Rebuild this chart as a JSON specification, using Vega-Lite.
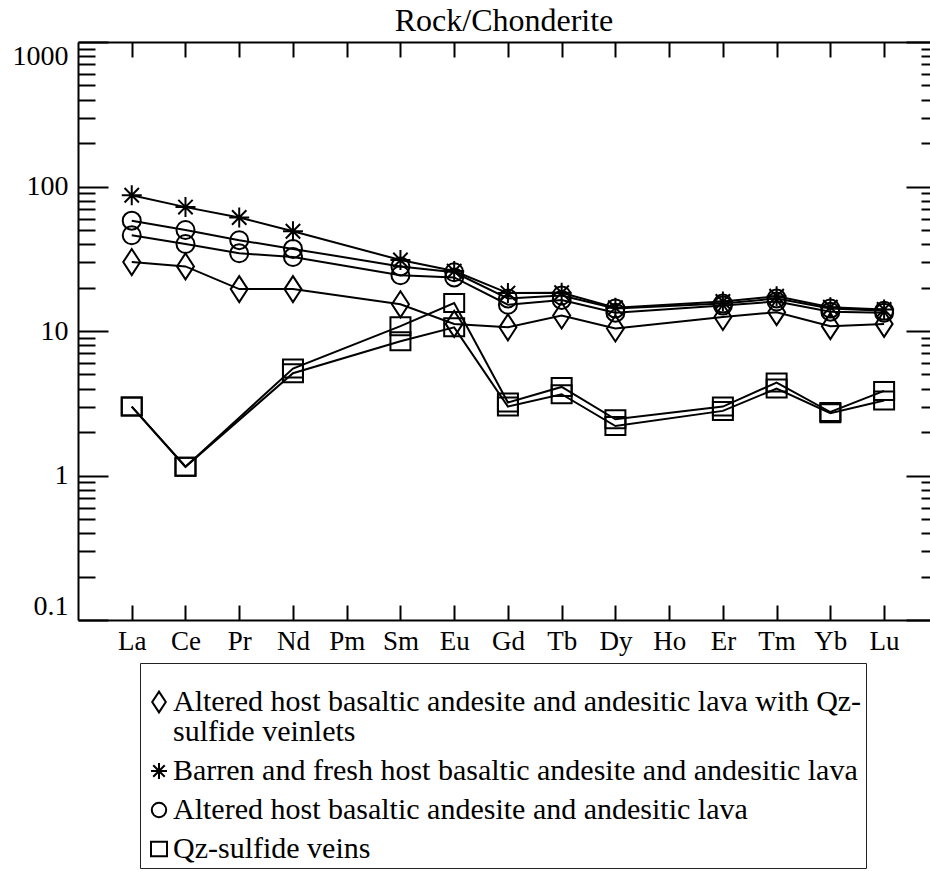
{
  "$schema": "https://vega.github.io/schema/vega-lite/v6.json",
  "autosize": {"type": "none"},
  "padding": {"left": 78, "top": 42, "right": 0, "bottom": 251},
  "width": 852,
  "height": 578,
  "background": "white",
  "config": {
    "font": "Liberation Serif",
    "view": {"stroke": null},
    "axis": {"grid": false, "domainColor": "black", "tickColor": "black", "labelColor": "black", "domainWidth": 2, "tickWidth": 2, "labelFont": "Liberation Serif"}
  },
  "title": {"text": "Rock/Chonderite", "fontSize": 32, "fontWeight": "normal", "font": "Liberation Serif", "color": "black", "anchor": "middle", "frame": "group", "offset": -3},
  "data": {"values": [
    {"type": "Altered host basaltic andesite and andesitic lava with Qz-sulfide veinlets", "series": "D", "el": "La", "Z": 57, "v": 30},
    {"type": "Altered host basaltic andesite and andesitic lava with Qz-sulfide veinlets", "series": "D", "el": "Ce", "Z": 58, "v": 28},
    {"type": "Altered host basaltic andesite and andesitic lava with Qz-sulfide veinlets", "series": "D", "el": "Pr", "Z": 59, "v": 19.5},
    {"type": "Altered host basaltic andesite and andesitic lava with Qz-sulfide veinlets", "series": "D", "el": "Nd", "Z": 60, "v": 19.5},
    {"type": "Altered host basaltic andesite and andesitic lava with Qz-sulfide veinlets", "series": "D", "el": "Sm", "Z": 62, "v": 15.3},
    {"type": "Altered host basaltic andesite and andesitic lava with Qz-sulfide veinlets", "series": "D", "el": "Eu", "Z": 63, "v": 11.2},
    {"type": "Altered host basaltic andesite and andesitic lava with Qz-sulfide veinlets", "series": "D", "el": "Gd", "Z": 64, "v": 10.6},
    {"type": "Altered host basaltic andesite and andesitic lava with Qz-sulfide veinlets", "series": "D", "el": "Tb", "Z": 65, "v": 12.8},
    {"type": "Altered host basaltic andesite and andesitic lava with Qz-sulfide veinlets", "series": "D", "el": "Dy", "Z": 66, "v": 10.4},
    {"type": "Altered host basaltic andesite and andesitic lava with Qz-sulfide veinlets", "series": "D", "el": "Er", "Z": 68, "v": 12.5},
    {"type": "Altered host basaltic andesite and andesitic lava with Qz-sulfide veinlets", "series": "D", "el": "Tm", "Z": 69, "v": 13.5},
    {"type": "Altered host basaltic andesite and andesitic lava with Qz-sulfide veinlets", "series": "D", "el": "Yb", "Z": 70, "v": 10.8},
    {"type": "Altered host basaltic andesite and andesitic lava with Qz-sulfide veinlets", "series": "D", "el": "Lu", "Z": 71, "v": 11.2},

    {"type": "Barren and fresh host basaltic andesite and andesitic lava", "series": "S", "el": "La", "Z": 57, "v": 87},
    {"type": "Barren and fresh host basaltic andesite and andesitic lava", "series": "S", "el": "Ce", "Z": 58, "v": 72},
    {"type": "Barren and fresh host basaltic andesite and andesitic lava", "series": "S", "el": "Pr", "Z": 59, "v": 61},
    {"type": "Barren and fresh host basaltic andesite and andesitic lava", "series": "S", "el": "Nd", "Z": 60, "v": 49},
    {"type": "Barren and fresh host basaltic andesite and andesitic lava", "series": "S", "el": "Sm", "Z": 62, "v": 31},
    {"type": "Barren and fresh host basaltic andesite and andesitic lava", "series": "S", "el": "Eu", "Z": 63, "v": 26},
    {"type": "Barren and fresh host basaltic andesite and andesitic lava", "series": "S", "el": "Gd", "Z": 64, "v": 18.3},
    {"type": "Barren and fresh host basaltic andesite and andesitic lava", "series": "S", "el": "Tb", "Z": 65, "v": 18.4},
    {"type": "Barren and fresh host basaltic andesite and andesitic lava", "series": "S", "el": "Dy", "Z": 66, "v": 14.5},
    {"type": "Barren and fresh host basaltic andesite and andesitic lava", "series": "S", "el": "Er", "Z": 68, "v": 16},
    {"type": "Barren and fresh host basaltic andesite and andesitic lava", "series": "S", "el": "Tm", "Z": 69, "v": 17.4},
    {"type": "Barren and fresh host basaltic andesite and andesitic lava", "series": "S", "el": "Yb", "Z": 70, "v": 14.6},
    {"type": "Barren and fresh host basaltic andesite and andesitic lava", "series": "S", "el": "Lu", "Z": 71, "v": 14.1},

    {"type": "Altered host basaltic andesite and andesitic lava", "series": "C1", "el": "La", "Z": 57, "v": 58},
    {"type": "Altered host basaltic andesite and andesitic lava", "series": "C1", "el": "Ce", "Z": 58, "v": 50},
    {"type": "Altered host basaltic andesite and andesitic lava", "series": "C1", "el": "Pr", "Z": 59, "v": 42.5},
    {"type": "Altered host basaltic andesite and andesitic lava", "series": "C1", "el": "Nd", "Z": 60, "v": 37},
    {"type": "Altered host basaltic andesite and andesitic lava", "series": "C1", "el": "Sm", "Z": 62, "v": 28},
    {"type": "Altered host basaltic andesite and andesitic lava", "series": "C1", "el": "Eu", "Z": 63, "v": 25.5},
    {"type": "Altered host basaltic andesite and andesitic lava", "series": "C1", "el": "Gd", "Z": 64, "v": 16.8},
    {"type": "Altered host basaltic andesite and andesitic lava", "series": "C1", "el": "Tb", "Z": 65, "v": 17.6},
    {"type": "Altered host basaltic andesite and andesitic lava", "series": "C1", "el": "Dy", "Z": 66, "v": 14.3},
    {"type": "Altered host basaltic andesite and andesitic lava", "series": "C1", "el": "Er", "Z": 68, "v": 15.5},
    {"type": "Altered host basaltic andesite and andesitic lava", "series": "C1", "el": "Tm", "Z": 69, "v": 16.8},
    {"type": "Altered host basaltic andesite and andesitic lava", "series": "C1", "el": "Yb", "Z": 70, "v": 14.3},
    {"type": "Altered host basaltic andesite and andesitic lava", "series": "C1", "el": "Lu", "Z": 71, "v": 13.8},

    {"type": "Altered host basaltic andesite and andesitic lava", "series": "C2", "el": "La", "Z": 57, "v": 46},
    {"type": "Altered host basaltic andesite and andesitic lava", "series": "C2", "el": "Ce", "Z": 58, "v": 40},
    {"type": "Altered host basaltic andesite and andesitic lava", "series": "C2", "el": "Pr", "Z": 59, "v": 34.5},
    {"type": "Altered host basaltic andesite and andesitic lava", "series": "C2", "el": "Nd", "Z": 60, "v": 32.5},
    {"type": "Altered host basaltic andesite and andesitic lava", "series": "C2", "el": "Sm", "Z": 62, "v": 24.3},
    {"type": "Altered host basaltic andesite and andesitic lava", "series": "C2", "el": "Eu", "Z": 63, "v": 23.5},
    {"type": "Altered host basaltic andesite and andesitic lava", "series": "C2", "el": "Gd", "Z": 64, "v": 15.2},
    {"type": "Altered host basaltic andesite and andesitic lava", "series": "C2", "el": "Tb", "Z": 65, "v": 16.4},
    {"type": "Altered host basaltic andesite and andesitic lava", "series": "C2", "el": "Dy", "Z": 66, "v": 13.4},
    {"type": "Altered host basaltic andesite and andesitic lava", "series": "C2", "el": "Er", "Z": 68, "v": 15},
    {"type": "Altered host basaltic andesite and andesitic lava", "series": "C2", "el": "Tm", "Z": 69, "v": 16},
    {"type": "Altered host basaltic andesite and andesitic lava", "series": "C2", "el": "Yb", "Z": 70, "v": 13.6},
    {"type": "Altered host basaltic andesite and andesitic lava", "series": "C2", "el": "Lu", "Z": 71, "v": 13.4},

    {"type": "Qz-sulfide veins", "series": "Q1", "el": "La", "Z": 57, "v": 3.0},
    {"type": "Qz-sulfide veins", "series": "Q1", "el": "Ce", "Z": 58, "v": 1.15},
    {"type": "Qz-sulfide veins", "series": "Q1", "el": "Nd", "Z": 60, "v": 5.5},
    {"type": "Qz-sulfide veins", "series": "Q1", "el": "Sm", "Z": 62, "v": 10.8},
    {"type": "Qz-sulfide veins", "series": "Q1", "el": "Eu", "Z": 63, "v": 15.6},
    {"type": "Qz-sulfide veins", "series": "Q1", "el": "Gd", "Z": 64, "v": 3.2},
    {"type": "Qz-sulfide veins", "series": "Q1", "el": "Tb", "Z": 65, "v": 4.1},
    {"type": "Qz-sulfide veins", "series": "Q1", "el": "Dy", "Z": 66, "v": 2.45},
    {"type": "Qz-sulfide veins", "series": "Q1", "el": "Er", "Z": 68, "v": 3.0},
    {"type": "Qz-sulfide veins", "series": "Q1", "el": "Tm", "Z": 69, "v": 4.4},
    {"type": "Qz-sulfide veins", "series": "Q1", "el": "Yb", "Z": 70, "v": 2.75},
    {"type": "Qz-sulfide veins", "series": "Q1", "el": "Lu", "Z": 71, "v": 3.85},

    {"type": "Qz-sulfide veins", "series": "Q2", "el": "La", "Z": 57, "v": 3.0},
    {"type": "Qz-sulfide veins", "series": "Q2", "el": "Ce", "Z": 58, "v": 1.15},
    {"type": "Qz-sulfide veins", "series": "Q2", "el": "Nd", "Z": 60, "v": 5.1},
    {"type": "Qz-sulfide veins", "series": "Q2", "el": "Sm", "Z": 62, "v": 8.5},
    {"type": "Qz-sulfide veins", "series": "Q2", "el": "Eu", "Z": 63, "v": 10.6},
    {"type": "Qz-sulfide veins", "series": "Q2", "el": "Gd", "Z": 64, "v": 3.0},
    {"type": "Qz-sulfide veins", "series": "Q2", "el": "Tb", "Z": 65, "v": 3.65},
    {"type": "Qz-sulfide veins", "series": "Q2", "el": "Dy", "Z": 66, "v": 2.2},
    {"type": "Qz-sulfide veins", "series": "Q2", "el": "Er", "Z": 68, "v": 2.8},
    {"type": "Qz-sulfide veins", "series": "Q2", "el": "Tm", "Z": 69, "v": 4.0},
    {"type": "Qz-sulfide veins", "series": "Q2", "el": "Yb", "Z": 70, "v": 2.7},
    {"type": "Qz-sulfide veins", "series": "Q2", "el": "Lu", "Z": 71, "v": 3.3}
  ]},
  "layer": [
    {
      "mark": {"type": "line", "color": "black", "strokeWidth": 2},
      "encoding": {
        "x": {"field": "Z", "type": "quantitative",
          "scale": {"domain": [56, 71.854], "nice": false, "zero": false},
          "axis": {"orient": "bottom", "title": null, "values": [57,58,59,60,61,62,63,64,65,66,67,68,69,70,71],
            "labelExpr": "['La','Ce','Pr','Nd','Pm','Sm','Eu','Gd','Tb','Dy','Ho','Er','Tm','Yb','Lu'][datum.value - 57]",
            "tickSize": -15, "labelPadding": 23, "labelFontSize": 27, "labelAngle": 0, "labelFlush": false, "labelOverlap": false}},
        "y": {"field": "v", "type": "quantitative",
          "scale": {"type": "log", "domain": [0.1, 1000], "nice": false},
          "axis": {"orient": "left", "title": null,
            "values": [0.1,0.2,0.3,0.4,0.5,0.6,0.7,0.8,0.9,1,2,3,4,5,6,7,8,9,10,20,30,40,50,60,70,80,90,100,200,300,400,500,600,700,800,900,1000],
            "format": "~g",
            "labelExpr": "indexof([0.1,1,10,100,1000], datum.value) >= 0 ? datum.label : ''",
            "tickSize": {"condition": {"test": "indexof([0.1,1,10,100,1000], datum.value) >= 0", "value": -30}, "value": -17},
            "labelPadding": 40, "labelFontSize": 28, "labelFlush": true, "labelOverlap": false}},
        "detail": {"field": "series"},
        "order": {"field": "Z"}
      }
    },
    {
      "mark": {"type": "point", "filled": false, "color": "black", "strokeWidth": 2, "size": 400, "opacity": 1},
      "encoding": {
        "x": {"field": "Z", "type": "quantitative",
          "axis": {"orient": "top", "title": null, "labels": false, "values": [57,58,59,60,61,62,63,64,65,66,67,68,69,70,71], "tickSize": -15}},
        "y": {"field": "v", "type": "quantitative",
          "axis": {"orient": "right", "title": null, "labels": false, "domain": false,
            "values": [0.1,0.2,0.3,0.4,0.5,0.6,0.7,0.8,0.9,1,2,3,4,5,6,7,8,9,10,20,30,40,50,60,70,80,90,100,200,300,400,500,600,700,800,900,1000],
            "tickSize": {"condition": {"test": "indexof([0.1,1,10,100,1000], datum.value) >= 0", "value": -24}, "value": -9}}},
        "shape": {"field": "type", "type": "nominal",
          "scale": {
            "domain": ["Altered host basaltic andesite and andesitic lava with Qz-sulfide veinlets", "Barren and fresh host basaltic andesite and andesitic lava", "Altered host basaltic andesite and andesitic lava", "Qz-sulfide veins"],
            "range": ["M0,-1.3L0.85,0L0,1.3L-0.85,0Z", "M-1,0L1,0M0,-1L0,1M-0.72,-0.72L0.72,0.72M-0.72,0.72L0.72,-0.72", "M-0.9,0A0.9,0.9,0,1,0,0.9,0A0.9,0.9,0,1,0,-0.9,0Z", "M-1,-0.9L1,-0.9L1,0.9L-1,0.9Z"]
          },
          "legend": {
            "orient": "none", "legendX": 62, "legendY": 621,
            "title": " ", "titleFontSize": 14, "titlePadding": 6,
            "strokeColor": "#222", "padding": 4,
            "labelFontSize": 30, "labelFont": "Liberation Serif", "labelColor": "black", "labelLimit": 1000, "labelOffset": -1,
            "rowPadding": 9, "symbolStrokeColor": "black", "symbolStrokeWidth": 2, "symbolSize": 256,
            "labelBaseline": "alphabetic",
            "labelExpr": "datum.label == 'Altered host basaltic andesite and andesitic lava with Qz-sulfide veinlets' ? ['Altered host basaltic andesite and andesitic lava with Qz-', ' sulfide veinlets'] : datum.label",
            "encoding": {"labels": {"dy": {"value": 9}, "lineHeight": {"value": 30}}, "symbols": {"size": {"value": 256}}}
          }
        }
      }
    }
  ],
  "resolve": {"axis": {"x": "independent", "y": "independent"}}
}
